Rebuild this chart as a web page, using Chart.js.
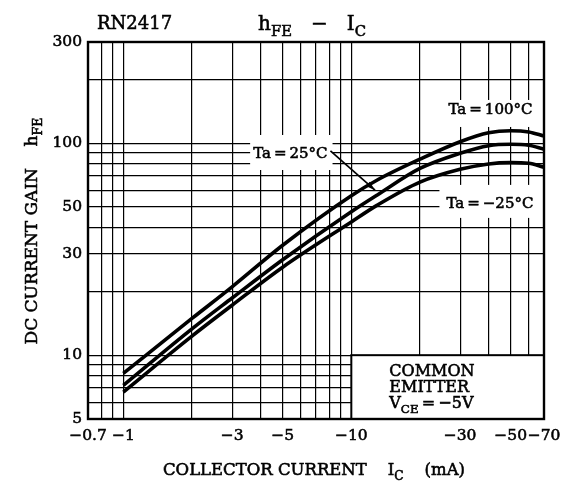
<!DOCTYPE html>
<html>
<head>
<meta charset="utf-8">
<title>RN2417 hFE - IC</title>
<script src="https://cdn.jsdelivr.net/npm/chart.js@4.4.1/dist/chart.umd.min.js"></script>
<style>
  html, body { margin: 0; padding: 0; background: #fff; }
  #wrap { width: 574px; height: 486px; }
</style>
</head>
<body>
<div id="wrap"><canvas id="hfeChart" width="574" height="486"></canvas></div>
<script>
// collector current magnitude (mA); the axis labels carry the minus sign
const collectorCurrent = [1, 2, 3, 5, 10, 13, 20, 30, 40, 50, 60, 70];
const hfeTa100 = [8.2, 14.9, 21, 33, 56.5, 67, 84, 101.6, 112, 114.5, 113, 108];
const hfeTa25 = [7.2, 13.3, 18.6, 28.2, 47.5, 57, 76, 89.6, 97.3, 98.8, 97.7, 93.6];
const hfeTaMinus25 = [6.7, 12.3, 17.2, 26, 42.5, 51, 65.5, 75.3, 79.8, 80.9, 80.4, 77];

const xGridValues = [0.7, 0.8, 0.9, 1, 2, 3, 4, 5, 6, 7, 8, 9, 10, 20, 30, 40, 50, 60, 70];
const xTickLabels = [0.7, 1, 3, 5, 10, 30, 50, 70];
const yGridValues = [5, 6, 7, 8, 9, 10, 20, 30, 40, 50, 60, 70, 80, 90, 100, 200, 300];
const yTickLabels = [5, 10, 30, 50, 100, 300];

const FONT = '"DejaVu Serif", "Liberation Serif", serif';
const MINUS = '\u2212';
const INK = 0.55; // extra stroke so the serif text prints a bit heavier

function series(values) {
  return collectorCurrent.map((c, i) => ({ x: c, y: values[i] }));
}

function inkText(ctx, t, x, y) {
  ctx.lineWidth = INK;
  ctx.strokeStyle = '#000';
  ctx.strokeText(t, x, y);
  ctx.fillText(t, x, y);
}

// text runs with optional subscripts: [[text, isSub], ...]
function richWidth(ctx, parts, size) {
  let w = 0;
  parts.forEach(([t, sub]) => {
    ctx.font = (sub ? size * 0.74 : size) + 'px ' + FONT;
    w += ctx.measureText(t).width;
  });
  return w;
}
function drawRich(ctx, parts, x, y, size) {
  ctx.textAlign = 'left';
  ctx.textBaseline = 'alphabetic';
  ctx.fillStyle = '#000';
  parts.forEach(([t, sub]) => {
    ctx.font = (sub ? size * 0.74 : size) + 'px ' + FONT;
    inkText(ctx, t, x, sub ? y + size * 0.28 : y);
    x += ctx.measureText(t).width;
  });
  return x;
}

// temperature tags; box pads cut the grid around the text
const tags = [
  { text: 'Ta\u2009=\u2009100°C', at: [62.3, 143.4], align: 'right', pad: [8, 14, 10, 17] },
  { text: 'Ta\u2009=\u2009' + MINUS + '25°C', at: [62.9, 51.7], align: 'right', pad: [7, 14, 19, 14] },
  { text: 'Ta\u2009=\u200925°C', at: [3.71, 88.9], align: 'left', pad: [3, 5, 19, 16] }
];

const decorations = {
  id: 'decorations',
  beforeDatasetsDraw(chart) {
    const { ctx, chartArea: a, scales: { x, y } } = chart;
    ctx.save();
    ctx.beginPath();
    ctx.rect(a.left, a.top, a.right - a.left, a.bottom - a.top);
    ctx.clip();
    ctx.font = '15px ' + FONT;
    tags.forEach(tag => {
      const px = x.getPixelForValue(tag.at[0]);
      const py = y.getPixelForValue(tag.at[1]);
      const w = ctx.measureText(tag.text).width;
      const left = tag.align === 'right' ? px - w : px;
      const [l, r, t, b] = tag.pad;
      ctx.fillStyle = '#fff';
      ctx.fillRect(left - l, py - t, w + l + r, t + b);
      ctx.fillStyle = '#000';
      ctx.textAlign = 'left';
      ctx.textBaseline = 'middle';
      inkText(ctx, tag.text, left, py);
    });

    // condition box in the lower right corner
    const bx = x.getPixelForValue(10);
    const by = y.getPixelForValue(10);
    ctx.fillStyle = '#fff';
    ctx.fillRect(bx, by, a.right - bx, a.bottom - by);
    ctx.strokeStyle = '#000';
    ctx.lineWidth = 2;
    ctx.strokeRect(bx, by, a.right - bx, a.bottom - by);
    ctx.fillStyle = '#000';
    ctx.font = '16px ' + FONT;
    ctx.textAlign = 'left';
    ctx.textBaseline = 'alphabetic';
    inkText(ctx, 'COMMON', bx + 38, by + 21);
    inkText(ctx, 'EMITTER', bx + 38, by + 37);
    drawRich(ctx, [['V', false], ['CE', true], ['\u2009=\u2009' + MINUS + '5V', false]], bx + 38, by + 53, 16);
    ctx.restore();
  },
  afterDatasetsDraw(chart) {
    const { ctx, chartArea: a, scales: { x, y } } = chart;
    ctx.save();
    // frame
    ctx.strokeStyle = '#000';
    ctx.lineWidth = 2.4;
    ctx.strokeRect(a.left, a.top, a.right - a.left, a.bottom - a.top);

    // leader from the 25°C tag to its curve
    const x0 = x.getPixelForValue(8.1), y0 = y.getPixelForValue(92);
    const x1 = x.getPixelForValue(12.7), y1 = y.getPixelForValue(60);
    ctx.lineWidth = 1.7;
    ctx.beginPath();
    ctx.moveTo(x0, y0);
    ctx.lineTo(x1, y1);
    ctx.stroke();
    const ang = Math.atan2(y1 - y0, x1 - x0);
    ctx.beginPath();
    ctx.moveTo(x1, y1);
    ctx.lineTo(x1 - 10 * Math.cos(ang - 0.3), y1 - 10 * Math.sin(ang - 0.3));
    ctx.lineTo(x1 - 10 * Math.cos(ang + 0.3), y1 - 10 * Math.sin(ang + 0.3));
    ctx.closePath();
    ctx.fillStyle = '#000';
    ctx.fill();

    // headings
    ctx.font = '18px ' + FONT;
    ctx.textAlign = 'left';
    ctx.textBaseline = 'alphabetic';
    ctx.fillStyle = '#000';
    inkText(ctx, 'RN2417', a.left + 9, 29);
    drawRich(ctx, [['h', false], ['FE', true], ['   ' + MINUS + '   ', false], ['I', false], ['C', true]], 258, 30, 20);

    // axis titles
    const xParts = [['COLLECTOR CURRENT    I', false], ['C', true], ['    (mA)', false]];
    drawRich(ctx, xParts, 163, 475, 16.5);

    const yParts = [['DC CURRENT GAIN    h', false], ['FE', true]];
    const yw = richWidth(ctx, yParts, 17);
    ctx.translate(37, 231);
    ctx.rotate(-Math.PI / 2);
    drawRich(ctx, yParts, -yw / 2, 0, 17);
    ctx.restore();
  }
};

new Chart(document.getElementById('hfeChart'), {
  type: 'line',
  data: {
    datasets: [
      { label: 'Ta = 100°C', data: series(hfeTa100) },
      { label: 'Ta = 25°C', data: series(hfeTa25) },
      { label: 'Ta = -25°C', data: series(hfeTaMinus25) }
    ]
  },
  options: {
    responsive: false,
    animation: false,
    layout: { padding: { top: 42, right: 30, left: 0, bottom: 0 } },
    elements: {
      line: { borderColor: '#000', borderWidth: 3.6, cubicInterpolationMode: 'monotone', fill: false },
      point: { radius: 0, hoverRadius: 0 }
    },
    plugins: { legend: { display: false }, tooltip: { enabled: false } },
    scales: {
      x: {
        type: 'logarithmic',
        min: 0.7,
        max: 70,
        afterBuildTicks: scale => { scale.ticks = xGridValues.map(v => ({ value: v })); },
        afterFit: scale => { scale.height = 67; },
        ticks: {
          autoSkip: false,
          maxRotation: 0,
          padding: 8,
          color: '#000',
          textStrokeColor: '#000',
          textStrokeWidth: INK,
          font: { family: FONT, size: 15.5 },
          callback: v => xTickLabels.includes(v) ? MINUS + v : ''
        },
        grid: { color: '#000', lineWidth: 1.2, drawTicks: false },
        border: { display: false }
      },
      y: {
        type: 'logarithmic',
        min: 5,
        max: 300,
        afterBuildTicks: scale => { scale.ticks = yGridValues.map(v => ({ value: v })); },
        afterFit: scale => { scale.width = 88; },
        ticks: {
          autoSkip: false,
          padding: 6,
          color: '#000',
          textStrokeColor: '#000',
          textStrokeWidth: INK,
          font: { family: FONT, size: 15.5 },
          callback: v => yTickLabels.includes(v) ? String(v) : ''
        },
        grid: { color: '#000', lineWidth: 1.2, drawTicks: false },
        border: { display: false }
      }
    }
  },
  plugins: [decorations]
});
</script>
</body>
</html>
